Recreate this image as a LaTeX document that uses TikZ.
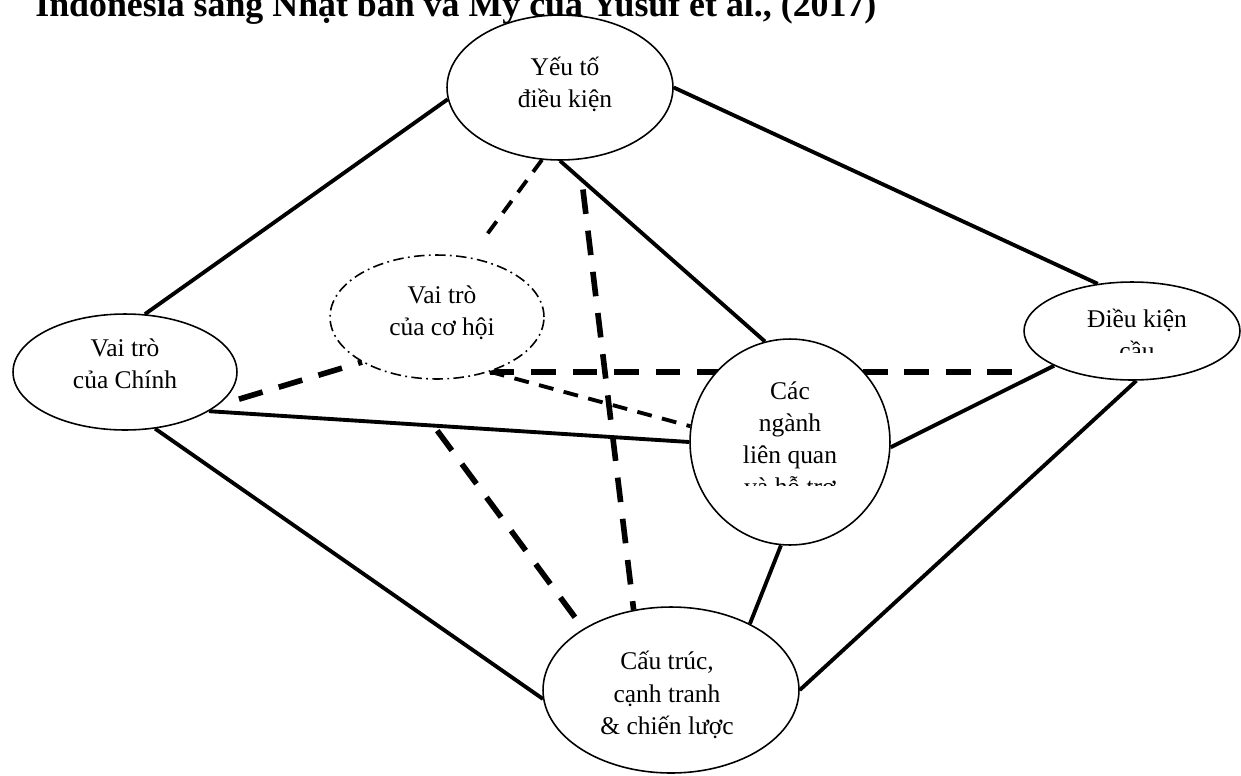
\documentclass[tikz,border=0pt]{standalone}
\usepackage{fontspec}
\setmainfont{Liberation Serif}
\usetikzlibrary{shapes.geometric,backgrounds}

\begin{document}
\begin{tikzpicture}[
    x=0.02cm, y=-0.02cm,
    bubble/.style={
        ellipse,
        draw=black,
        line width=0.9pt,
        fill=white,
        inner sep=0pt
    },
    chance/.style={
        bubble,
        dash pattern=on 6pt off 2.5pt on 1pt off 2.5pt
    },
    txt/.style={
        align=center,
        inner sep=0pt,
        font=\fontsize{14.5}{18.3}\selectfont
    },
    link/.style={draw, line width=2.2pt},
    bigdash/.style={draw, line width=3.2pt, dash pattern=on 14pt off 9.6pt},
    smalldash/.style={draw, line width=2.2pt, dash pattern=on 8.5pt off 6pt}
]
\useasboundingbox (0,0) rectangle (1241,775);

% Title
\node[font=\bfseries\fontsize{20.4}{24}\selectfont, anchor=base west, inner sep=0pt] (title) at (35,16) {Indonesia sang Nhật bản và Mỹ của Yusuf et al., (2017)};

% Ellipses
\node[bubble, minimum width=4.52cm, minimum height=2.9cm] (yeu) at (560,87.5) {};
\node[chance, minimum width=4.28cm, minimum height=2.48cm] (cohoi) at (437,317) {};
\node[bubble, minimum width=4.48cm, minimum height=2.32cm] (chinh) at (125,372) {};
\node[bubble, minimum width=4.32cm, minimum height=1.96cm] (dieukien) at (1132,331) {};
\node[bubble, minimum width=4.0cm, minimum height=4.12cm] (nganh) at (790,442) {};
\node[bubble, minimum width=5.12cm, minimum height=3.32cm] (cautruc) at (671,690) {};

% Texts
\node[txt] (yeuText) at (565,84) {Yếu tố\\điều kiện};
\node[txt] (cohoiText) at (442,313) {Vai trò\\của cơ hội};
\node[txt] (chinhText) at (125,364) {Vai trò\\của Chính};
\node[txt] (cautrucText) at (667,695) {Cấu trúc,\\cạnh tranh\\\& chiến lược};
\begin{scope}
    \clip (1026,290) rectangle (1240,352);
    \node[txt] (dieukienText) at (1137,334) {Điều kiện\\cầu};
\end{scope}
\begin{scope}
    \clip (692,340) rectangle (890,485);
    \node[txt] (nganhText) at (790,441) {Các\\ngành\\liên quan\\và hỗ trợ};
\end{scope}

% Connections
\begin{scope}[on background layer]
    \draw[link] (yeu.186) -- (chinh.71);
    \draw[link] (yeu.0) -- (dieukien.126);
    \draw[link] (yeu.270) -- (nganh.104);
    \draw[link] (chinh.335) -- (nganh.180);
    \draw[link] (chinh.298) -- (cautruc.184);
    \draw[link] (nganh.357) -- (dieukien.204);
    \draw[link] (nganh.265) -- (cautruc.40);
    \draw[link] (dieukien.275) -- (cautruc.0);

    \draw[bigdash, shorten <=0.45cm] (chinh.340) -- (cohoi.211);
    \draw[bigdash] (cohoi.314) -- (cohoi.314 -| dieukien.west);
    \draw[bigdash, shorten <=0.6cm] (yeu.285) -- (cautruc.115);
    \draw[bigdash, shorten <=1.38cm] (cohoi.235) -- (cautruc.145);

    \draw[smalldash, shorten >=0.4cm] (yeu.256) -- (cohoi.61);
    \draw[smalldash] (cohoi.314) -- (nganh.171);
\end{scope}

\end{tikzpicture}
\end{document}
